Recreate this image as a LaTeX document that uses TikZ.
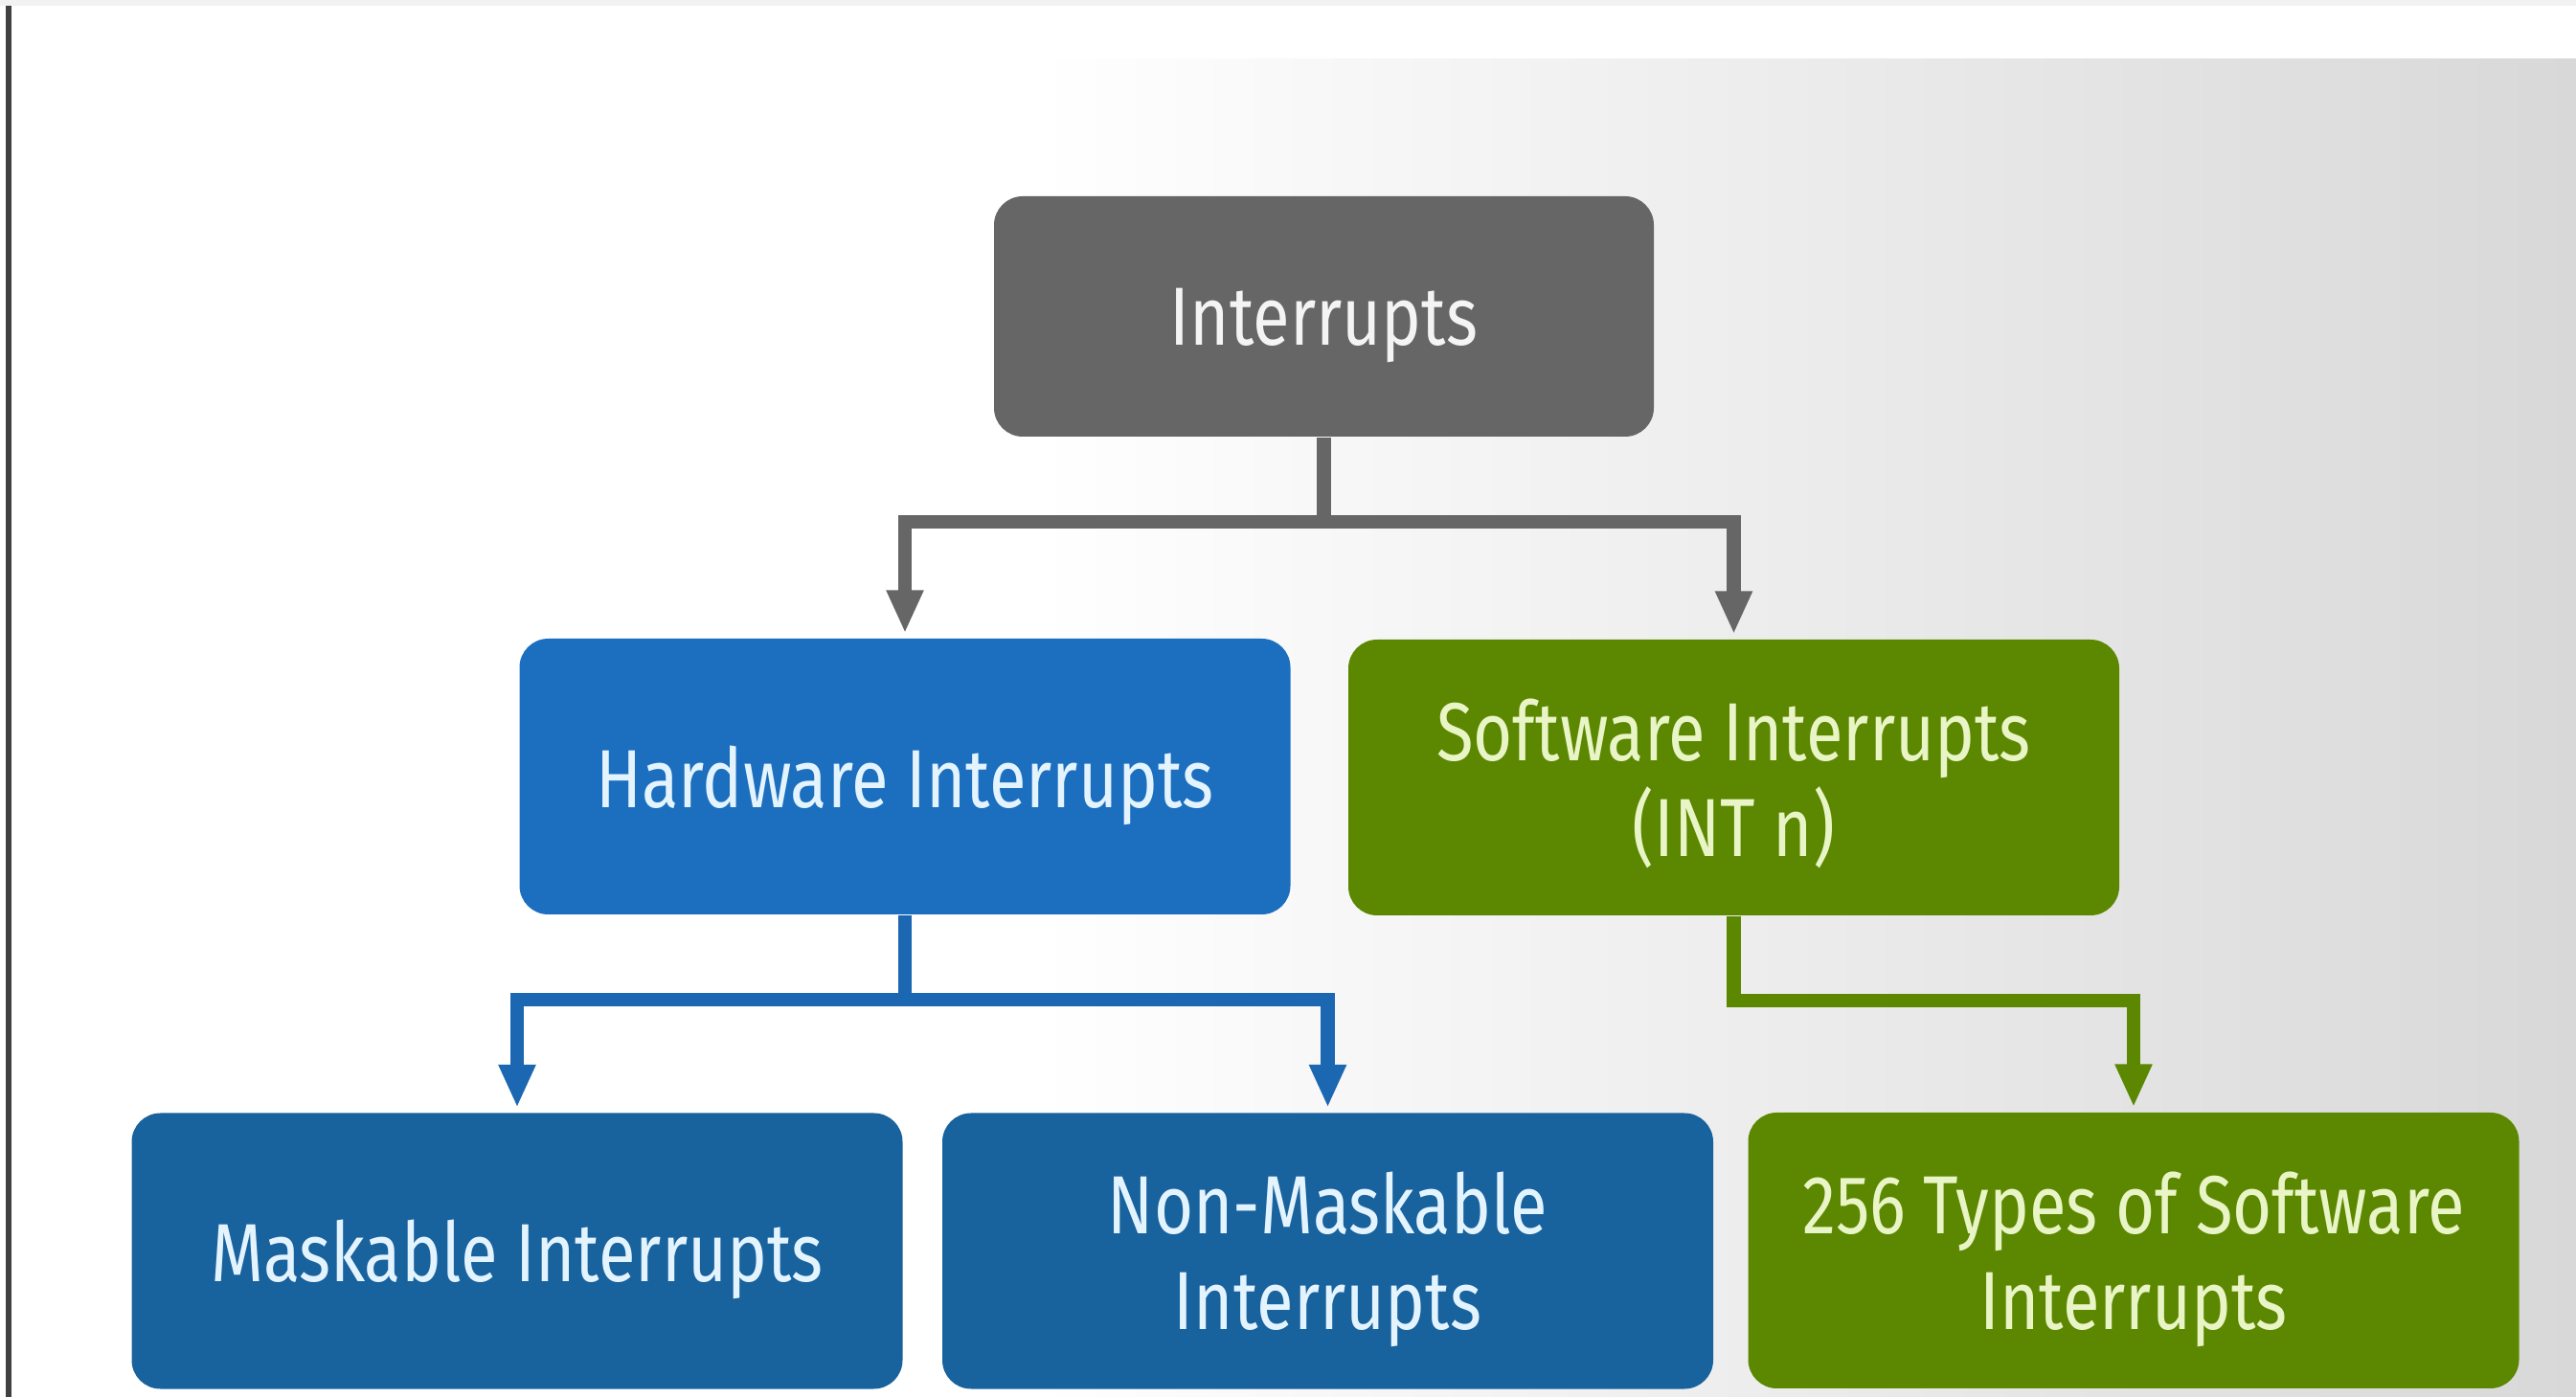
\documentclass[tikz,border=0pt]{standalone}
\usepackage{fontspec}
\setmainfont{Fira Sans}[FakeStretch=0.82]
\usetikzlibrary{arrows.meta}

\definecolor{cinza}{HTML}{666666}
\definecolor{azulclaro}{HTML}{1C6FBE}
\definecolor{azul}{HTML}{18629D}
\definecolor{azulseta}{HTML}{1C67B2}
\definecolor{verde}{HTML}{5B8800}
\definecolor{textoazul}{HTML}{E4F4FF}
\definecolor{textoverde}{HTML}{E9F5C6}
\definecolor{textocinza}{HTML}{F4F4F4}
\definecolor{fundofim}{HTML}{D8D8D8}
\pgfdeclarehorizontalshading{fundo}{100bp}{color(0bp)=(white); color(45bp)=(white); color(75bp)=(fundofim); color(100bp)=(fundofim)}

\begin{document}
\begin{tikzpicture}
\tikzset{ >={Triangle[length=4.5mm,width=3.6mm]},
  caixa/.style={rounded corners=0.3cm, minimum width=8.05cm, minimum height=2.88cm,
                align=center, inner sep=0pt, text depth=0pt,
                font=\fontsize{24.5}{28.5}\selectfont},
  seta/.style={->, line width=4pt, shorten >=0.05cm},
}

%\draw [lightgray, dashed](0,0) grid (26.9,-14.59);

% fundo
\useasboundingbox (0,0) rectangle (26.9,-14.59);
\fill [white] (0,0) rectangle (26.9,-14.59);
\fill [gray!10] (0,0) rectangle (26.9,-0.06);
\shade [shading=fundo] (0.1,-0.62) rectangle (26.9,-14.59);
\draw [line width=1.5pt, black!75] (0.09,-0.06) -- (0.09,-14.59);

% caixas
\node [caixa, fill=cinza, text=textocinza, minimum width=6.89cm, minimum height=2.51cm] (INT) at (13.825,-3.305) {Interrupts};

\node [caixa, fill=azulclaro, text=textoazul] (HW)  at (9.45,-8.11)   {Hardware Interrupts};
\node [caixa, fill=verde,     text=textoverde] (SW) at (18.105,-8.12) {Software Interrupts\\(INT n)};

\node [caixa, fill=azul,  text=textoazul]  (MI)  at (5.40,-13.065)  {Maskable Interrupts};
\node [caixa, fill=azul,  text=textoazul]  (NMI) at (13.865,-13.065) {Non-Maskable\\Interrupts};
\node [caixa, fill=verde, text=textoverde] (SWT) at (22.28,-13.06)  {256 Types of Software\\Interrupts};

% setas
\draw [seta, cinza] (INT.south) -- ++(0,-0.88) -| (HW.north);
\draw [seta, cinza] (INT.south) -- ++(0,-0.88) -| (SW.north);

\draw [seta, azulseta] (HW.south) -- ++(0,-0.88) -| (MI.north);
\draw [seta, azulseta] (HW.south) -- ++(0,-0.88) -| (NMI.north);

\draw [seta, verde] (SW.south) -- ++(0,-0.88) -| (SWT.north);

\end{tikzpicture}
\end{document}
